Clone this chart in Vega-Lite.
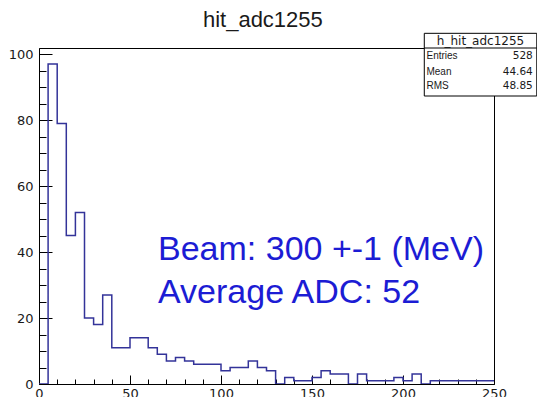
{
  "$schema": "https://vega.github.io/schema/vega-lite/v6.json",
  "width": 455,
  "height": 336,
  "autosize": "none",
  "padding": {"left": 39, "top": 48, "right": 43, "bottom": 13},
  "background": "white",
  "config": {
    "view": {"stroke": "black", "strokeWidth": 1},
    "axis": {
      "title": null,
      "domainColor": "black",
      "domainWidth": 1,
      "ticks": false,
      "gridColor": "black",
      "gridOpacity": 1,
      "gridWidth": 1,
      "labelFont": "DejaVu Sans",
      "labelFontSize": 13,
      "labelColor": "#1a1a1a",
      "labelFlush": false,
      "labelOverlap": false
    }
  },
  "data": {
    "values": [
      {"x0": 0, "x1": 5, "n": 0},
      {"x0": 5, "x1": 10, "n": 97},
      {"x0": 10, "x1": 15, "n": 79},
      {"x0": 15, "x1": 20, "n": 45},
      {"x0": 20, "x1": 25, "n": 52},
      {"x0": 25, "x1": 30, "n": 20},
      {"x0": 30, "x1": 35, "n": 18},
      {"x0": 35, "x1": 40, "n": 27},
      {"x0": 40, "x1": 45, "n": 11},
      {"x0": 45, "x1": 50, "n": 11},
      {"x0": 50, "x1": 55, "n": 14},
      {"x0": 55, "x1": 60, "n": 14},
      {"x0": 60, "x1": 65, "n": 11},
      {"x0": 65, "x1": 70, "n": 9},
      {"x0": 70, "x1": 75, "n": 7},
      {"x0": 75, "x1": 80, "n": 8},
      {"x0": 80, "x1": 85, "n": 7},
      {"x0": 85, "x1": 90, "n": 6},
      {"x0": 90, "x1": 95, "n": 6},
      {"x0": 95, "x1": 100, "n": 6},
      {"x0": 100, "x1": 105, "n": 4},
      {"x0": 105, "x1": 110, "n": 5},
      {"x0": 110, "x1": 115, "n": 5},
      {"x0": 115, "x1": 120, "n": 7},
      {"x0": 120, "x1": 125, "n": 5},
      {"x0": 125, "x1": 130, "n": 4},
      {"x0": 130, "x1": 135, "n": 0},
      {"x0": 135, "x1": 140, "n": 2},
      {"x0": 140, "x1": 145, "n": 1},
      {"x0": 145, "x1": 150, "n": 1},
      {"x0": 150, "x1": 155, "n": 2},
      {"x0": 155, "x1": 160, "n": 4},
      {"x0": 160, "x1": 165, "n": 3},
      {"x0": 165, "x1": 170, "n": 3},
      {"x0": 170, "x1": 175, "n": 0},
      {"x0": 175, "x1": 180, "n": 3},
      {"x0": 180, "x1": 185, "n": 1},
      {"x0": 185, "x1": 190, "n": 1},
      {"x0": 190, "x1": 195, "n": 1},
      {"x0": 195, "x1": 200, "n": 2},
      {"x0": 200, "x1": 205, "n": 1},
      {"x0": 205, "x1": 210, "n": 3},
      {"x0": 210, "x1": 215, "n": 0},
      {"x0": 215, "x1": 220, "n": 1},
      {"x0": 220, "x1": 225, "n": 1},
      {"x0": 225, "x1": 230, "n": 1},
      {"x0": 230, "x1": 235, "n": 1},
      {"x0": 235, "x1": 240, "n": 1},
      {"x0": 240, "x1": 245, "n": 1},
      {"x0": 245, "x1": 250, "n": 1}
    ]
  },
  "resolve": {"axis": {"x": "independent", "y": "independent"}},
  "layer": [
    {
      "transform": [{"fold": ["x0", "x1"], "as": ["edge", "adc"]}],
      "mark": {"type": "line", "color": "#333399", "strokeWidth": 1.5, "clip": true},
      "encoding": {
        "x": {
          "field": "adc",
          "type": "quantitative",
          "scale": {"domain": [0, 250], "nice": false, "zero": true},
          "axis": {"orient": "bottom", "values": [0, 50, 100, 150, 200, 250], "labelPadding": 3, "grid": true, "gridDash": [0, 327, 9, 1000]}
        },
        "y": {
          "field": "n",
          "type": "quantitative",
          "scale": {"domain": [0, 101.85], "nice": false, "zero": true},
          "axis": {"orient": "left", "values": [0, 20, 40, 60, 80, 100], "labelPadding": 6, "grid": true, "gridDash": [13, 2000]}
        },
        "order": [
          {"field": "adc", "type": "quantitative", "sort": "ascending"},
          {"field": "edge", "type": "ordinal", "sort": "descending"}
        ]
      }
    },
    {
      "mark": {"type": "line", "strokeOpacity": 0},
      "encoding": {
        "x": {
          "field": "x1",
          "type": "quantitative",
          "scale": {"domain": [0, 250], "nice": false, "zero": true},
          "axis": {
            "orient": "bottom",
            "values": [10, 20, 30, 40, 60, 70, 80, 90, 110, 120, 130, 140, 160, 170, 180, 190, 210, 220, 230, 240],
            "labels": false,
            "domain": false,
            "grid": true,
            "gridDash": [0, 331, 5, 1000]
          }
        },
        "y": {
          "field": "n",
          "type": "quantitative",
          "scale": {"domain": [0, 101.85], "nice": false, "zero": true},
          "axis": {
            "orient": "left",
            "values": [5, 10, 15, 25, 30, 35, 45, 50, 55, 65, 70, 75, 85, 90, 95],
            "labels": false,
            "domain": false,
            "grid": true,
            "gridDash": [7, 2000]
          }
        }
      }
    },
    {
      "data": {"values": [{"name": "hit_adc1255"}]},
      "mark": {"type": "text", "font": "Liberation Sans", "fontSize": 22, "color": "#1a1a1a", "align": "center", "baseline": "alphabetic", "clip": false},
      "encoding": {
        "x": {"datum": 123, "type": "quantitative", "axis": null},
        "y": {"datum": 108.3, "type": "quantitative", "axis": null},
        "text": {"field": "name", "type": "nominal"}
      }
    },
    {
      "data": {"values": [{"note": "Beam: 300 +-1 (MeV)"}]},
      "mark": {"type": "text", "font": "Liberation Sans", "fontSize": 34, "color": "#1c1cd4", "align": "left", "baseline": "alphabetic"},
      "encoding": {
        "x": {"datum": 65.4, "type": "quantitative", "axis": null},
        "y": {"datum": 37.6, "type": "quantitative", "axis": null},
        "text": {"field": "note", "type": "nominal"}
      }
    },
    {
      "data": {"values": [{"note": "Average ADC: 52"}]},
      "mark": {"type": "text", "font": "Liberation Sans", "fontSize": 34, "color": "#1c1cd4", "align": "left", "baseline": "alphabetic"},
      "encoding": {
        "x": {"datum": 65.4, "type": "quantitative", "axis": null},
        "y": {"datum": 24.5, "type": "quantitative", "axis": null},
        "text": {"field": "note", "type": "nominal"}
      }
    },
    {
      "mark": {"type": "rect", "fill": "white", "stroke": "black", "strokeWidth": 1, "clip": false},
      "data": {"values": [{"box": "stats"}]},
      "encoding": {
        "x": {"datum": 211.7, "type": "quantitative", "axis": null},
        "x2": {"datum": 273.5},
        "y": {"datum": 106.3, "type": "quantitative", "axis": null},
        "y2": {"datum": 87.3}
      }
    },
    {
      "mark": {"type": "rule", "stroke": "black", "strokeWidth": 1, "clip": false},
      "data": {"values": [{"box": "stats"}]},
      "encoding": {
        "x": {"datum": 211.7, "type": "quantitative", "axis": null},
        "x2": {"datum": 273.5},
        "y": {"datum": 101.85, "type": "quantitative", "axis": null}
      }
    },
    {
      "data": {"values": [{"name": "h_hit_adc1255"}]},
      "mark": {"type": "text", "font": "DejaVu Sans", "fontSize": 12, "color": "#1a1a1a", "align": "center", "baseline": "middle", "clip": false},
      "encoding": {
        "x": {"datum": 242.6, "type": "quantitative", "axis": null},
        "y": {"datum": 104.0, "type": "quantitative", "axis": null},
        "text": {"field": "name", "type": "nominal"}
      }
    },
    {
      "data": {"values": [{"stat": "Entries", "value": "528"}]},
      "encoding": {"y": {"datum": 99.4, "type": "quantitative", "axis": null}},
      "layer": [
        {
          "mark": {"type": "text", "font": "Liberation Sans", "fontSize": 10, "color": "#1a1a1a", "align": "left", "baseline": "middle", "clip": false},
          "encoding": {"x": {"datum": 212.9, "type": "quantitative", "axis": null}, "text": {"field": "stat", "type": "nominal"}}
        },
        {
          "mark": {"type": "text", "font": "DejaVu Sans", "fontSize": 10.5, "color": "#1a1a1a", "align": "right", "baseline": "middle", "clip": false},
          "encoding": {"x": {"datum": 271.3, "type": "quantitative", "axis": null}, "text": {"field": "value", "type": "nominal"}}
        }
      ]
    },
    {
      "data": {"values": [{"stat": "Mean", "value": "44.64"}]},
      "encoding": {"y": {"datum": 94.7, "type": "quantitative", "axis": null}},
      "layer": [
        {
          "mark": {"type": "text", "font": "Liberation Sans", "fontSize": 10, "color": "#1a1a1a", "align": "left", "baseline": "middle", "clip": false},
          "encoding": {"x": {"datum": 212.9, "type": "quantitative", "axis": null}, "text": {"field": "stat", "type": "nominal"}}
        },
        {
          "mark": {"type": "text", "font": "DejaVu Sans", "fontSize": 10.5, "color": "#1a1a1a", "align": "right", "baseline": "middle", "clip": false},
          "encoding": {"x": {"datum": 271.3, "type": "quantitative", "axis": null}, "text": {"field": "value", "type": "nominal"}}
        }
      ]
    },
    {
      "data": {"values": [{"stat": "RMS", "value": "48.85"}]},
      "encoding": {"y": {"datum": 90.3, "type": "quantitative", "axis": null}},
      "layer": [
        {
          "mark": {"type": "text", "font": "Liberation Sans", "fontSize": 10, "color": "#1a1a1a", "align": "left", "baseline": "middle", "clip": false},
          "encoding": {"x": {"datum": 212.9, "type": "quantitative", "axis": null}, "text": {"field": "stat", "type": "nominal"}}
        },
        {
          "mark": {"type": "text", "font": "DejaVu Sans", "fontSize": 10.5, "color": "#1a1a1a", "align": "right", "baseline": "middle", "clip": false},
          "encoding": {"x": {"datum": 271.3, "type": "quantitative", "axis": null}, "text": {"field": "value", "type": "nominal"}}
        }
      ]
    }
  ]
}
